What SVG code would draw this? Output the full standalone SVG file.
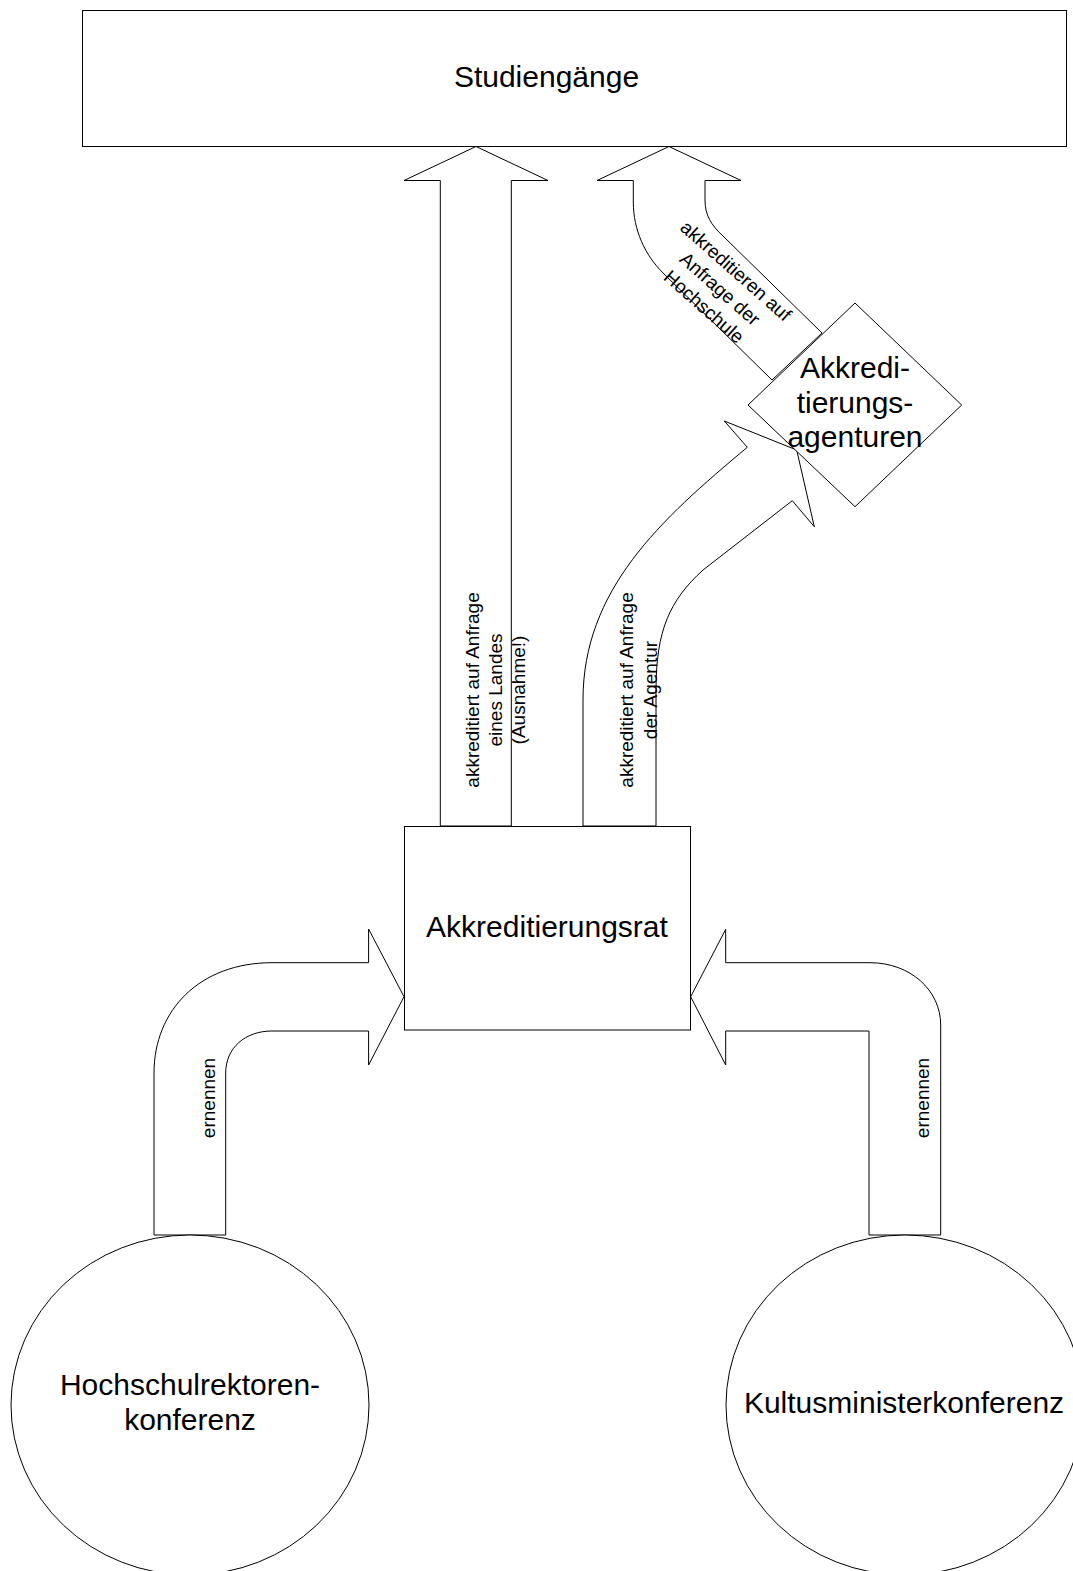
<svg xmlns="http://www.w3.org/2000/svg" width="1073" height="1571" viewBox="0 0 1073 1571">
<style>
.s{fill:#fff;stroke:#000;stroke-width:1}
.t{font-family:"Liberation Sans",Arial,sans-serif;fill:#000;text-anchor:middle}
.big{font-size:30px}
.sm{font-size:19px}
</style>
<rect x="0" y="0" width="1073" height="1571" fill="#fff"/>
<g id="connectors">
  <path id="arrow-land" class="s" d="M440.3,826 L440.3,180.5 L404,180.5 L476,146.5 L548,180.5 L511.3,180.5 L511.3,826 Z"/>
  <path id="arrow-hochschule" class="s" d="M633.3,180.5 L633.3,202 C633.3,230 645,255 663,273 L772,380 L822,333 L723,236 C711,225 705,215 705,200 L705,180.5 L741,180.5 L669,146.5 L597,180.5 Z"/>
  <path id="arrow-agentur" class="s" d="M583,826 L583,700 C583,590 660,520 747.3,447.3 L724.3,421 L796.7,450 L814.3,526.7 L792.3,500.7 L703,570 C670,600 656,630 656,690 L656,826 Z"/>
  <path id="arrow-hrk" class="s" d="M154,1235 L154,1073 C154,1010 200,962.7 272,962.7 L368.6,962.7 L368.6,929 L404,996.7 L368.6,1065 L368.6,1031 L272,1031 C245,1031 225.7,1048 225.7,1073 L225.7,1235 Z"/>
  <path id="arrow-kmk" class="s" d="M869,1235 L869,1031 L725.7,1031 L725.7,1065 L690.7,996.7 L725.7,929.3 L725.7,962.7 L870,962.7 C910,962.7 940.7,990 940.7,1025 L940.7,1235 Z"/>
  <g class="t sm">
    <g transform="translate(0,690) rotate(-90)">
      <text x="0" y="479">akkreditiert auf Anfrage</text>
      <text x="0" y="502">eines Landes</text>
      <text x="0" y="525">(Ausnahme!)</text>
      <text x="0" y="633">akkreditiert auf Anfrage</text>
      <text x="0" y="657">der Agentur</text>
    </g>
    <g transform="translate(719,290) rotate(41.5)">
      <text x="0" y="-19">akkreditieren auf</text>
      <text x="0" y="5">Anfrage der</text>
      <text x="0" y="29">Hochschule</text>
    </g>
    <text transform="translate(215,1098) rotate(-90)" x="0" y="0">ernennen</text>
    <text transform="translate(929,1098) rotate(-90)" x="0" y="0">ernennen</text>
  </g>
</g>
<g id="studiengaenge">
  <rect class="s" x="82.5" y="10.5" width="984" height="136"/>
  <text class="t big" x="546.5" y="86.5">Studiengänge</text>
</g>
<g id="akkreditierungsagenturen">
  <polygon class="s" points="855,303 961.7,405 855,506.7 748,405"/>
  <text class="t big" x="855" y="378">Akkredi-</text>
  <text class="t big" x="855" y="413">tierungs-</text>
  <text class="t big" x="855" y="447">agenturen</text>
</g>
<g id="akkreditierungsrat">
  <rect class="s" x="404.5" y="826.5" width="286" height="203.5"/>
  <text class="t big" x="547" y="937">Akkreditierungsrat</text>
</g>
<g id="hrk">
  <ellipse class="s" cx="190" cy="1405" rx="179" ry="170"/>
  <text class="t big" x="190" y="1395">Hochschulrektoren-</text>
  <text class="t big" x="190" y="1430">konferenz</text>
</g>
<g id="kmk">
  <ellipse class="s" cx="905" cy="1405" rx="179" ry="170"/>
  <text class="t big" x="904" y="1413">Kultusministerkonferenz</text>
</g>
</svg>
